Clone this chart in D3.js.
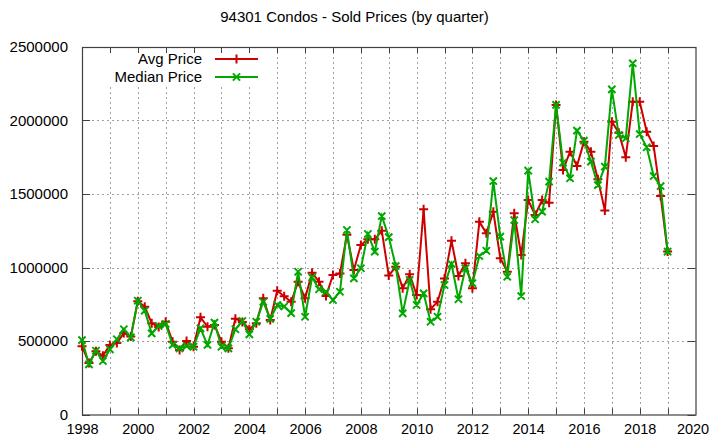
<!DOCTYPE html>
<html>
<head>
<meta charset="utf-8">
<script src="https://cdn.jsdelivr.net/npm/d3@7"></script>
<style>
body { margin: 0; background: #fff; }
text { font-family: "Liberation Sans", Arial, sans-serif; }
</style>
</head>
<body>
<div id="viz"></div>
<script>
var w = 709,
	h = 445,
	margin = {top: 47, right: 13.5, bottom: 30.5, left: 82};

var first_year = 1998;
var year_ticks = [1998,2000,2002,2004,2006,2008,2010,2012,2014,2016,2018,2020];
var price_ticks = [0,500000,1000000,1500000,2000000,2500000];

// quarterly, starting 1998 Q1
var avg_price = [
	465000,350000,430000,400000,473000,486000,554000,530000,
	770000,733000,620000,596000,631000,495000,439000,500000,
	461000,661000,597000,609000,495000,450000,652000,630000,
	580000,620000,790000,643000,842000,805000,767000,903000,
	790000,965000,903000,806000,949000,960000,1222000,983000,
	1153000,1192000,1192000,1250000,945000,1005000,858000,954000,
	813000,1396000,716000,767000,926000,1182000,942000,1029000,
	858000,1312000,1233000,1380000,1063000,971000,1369000,1085000,
	1459000,1357000,1459000,1441000,2106000,1663000,1788000,1691000,
	1856000,1788000,1600000,1387000,1992000,1917000,1750000,2128000,
	2128000,1924000,1827000,1486000,1108000
];
var median_price = [
	506000,341000,434000,364000,443000,512000,580000,525000,
	774000,706000,552000,602000,616000,473000,450000,466000,
	461000,586000,473000,625000,461000,450000,580000,636000,
	545000,631000,767000,650000,745000,735000,690000,971000,
	665000,933000,852000,835000,779000,835000,1255000,926000,
	995000,1228000,1108000,1350000,1207000,1010000,688000,915000,
	745000,824000,631000,665000,881000,1024000,784000,995000,
	893000,1078000,1114000,1588000,1210000,937000,1323000,806000,
	1659000,1328000,1380000,1584000,2106000,1713000,1607000,1931000,
	1863000,1720000,1560000,1686000,2212000,1901000,1879000,2389000,
	1908000,1818000,1622000,1554000,1108000
];

var series = [
	{name: 'Avg Price', values: avg_price, color: '#cc0000', marker: 'plus'},
	{name: 'Median Price', values: median_price, color: '#00a800', marker: 'cross'}
];

var iw = w - margin.left - margin.right,
	ih = h - margin.top - margin.bottom;

var x = d3.scaleLinear().domain([1998, 2020]).range([0, iw]);
var y = d3.scaleLinear().domain([0, 2500000]).range([ih, 0]);

var svg = d3.select('#viz').append('svg')
	.attr('width', w)
	.attr('height', h);

svg.append('text')
	.attr('x', w / 2)
	.attr('y', 22)
	.attr('text-anchor', 'middle')
	.style('font-size', '15px')
	.text('94301 Condos - Sold Prices (by quarter)');

var plot = svg.append('g')
	.attr('transform', 'translate(' + margin.left + ',' + margin.top + ')');

//GRID
var all_years = d3.range(1999, 2020);
plot.selectAll('.vgrid')
	.data(all_years)
	.enter().append('line')
		.attr('class', 'vgrid')
		.attr('x1', function(d){ return Math.round(x(d)) + 0.5; })
		.attr('x2', function(d){ return Math.round(x(d)) + 0.5; })
		.attr('y1', 0)
		.attr('y2', ih)
		.attr('stroke', '#a0a0a0')
		.attr('stroke-dasharray', '2,3');
plot.selectAll('.hgrid')
	.data(price_ticks.slice(1, -1))
	.enter().append('line')
		.attr('class', 'hgrid')
		.attr('x1', 0)
		.attr('x2', iw)
		.attr('y1', function(d){ return Math.round(y(d)) + 0.5; })
		.attr('y2', function(d){ return Math.round(y(d)) + 0.5; })
		.attr('stroke', '#a0a0a0')
		.attr('stroke-dasharray', '2,3');

// legend box hides grid behind it
plot.append('rect')
	.attr('x', 0)
	.attr('y', 0)
	.attr('width', 180)
	.attr('height', 39)
	.attr('fill', '#fff');

//AXES
var xAxis = d3.axisBottom(x).tickValues(year_ticks).tickFormat(d3.format('d')).tickSize(0).tickPadding(9);
var yAxis = d3.axisLeft(y).tickValues(price_ticks).tickFormat(d3.format('d')).tickSize(0).tickPadding(14);

var gx = plot.append('g')
	.attr('transform', 'translate(0,' + ih + ')')
	.call(xAxis);
var gy = plot.append('g').call(yAxis);
[gx, gy].forEach(function(g){
	g.select('.domain').remove();
	g.selectAll('text')
		.attr('fill', '#000')
		.style('font-size', '15px')
		.style('font-family', '"Liberation Sans", Arial, sans-serif');
});
// last year label sits at the window edge: keep it inside
gx.selectAll('text')
	.style('font-size', '14.5px')
	.attr('dx', function(d){ return d === 2020 ? -3 : 0; });

// inward tics on all four sides
var tic = 6;
plot.selectAll('.xtic')
	.data(all_years)
	.enter().append('path')
		.attr('class', 'xtic')
		.attr('d', function(d){
			var px = Math.round(x(d)) + 0.5;
			return 'M' + px + ',' + ih + 'V' + (ih - tic) + 'M' + px + ',0V' + tic;
		})
		.attr('stroke', '#404040');
plot.selectAll('.ytic')
	.data(price_ticks)
	.enter().append('path')
		.attr('class', 'ytic')
		.attr('d', function(d){
			var py = Math.round(y(d)) + 0.5;
			return 'M0,' + py + 'H' + (tic + 2) + 'M' + iw + ',' + py + 'H' + (iw - tic - 2);
		})
		.attr('stroke', '#404040');

plot.append('rect')
	.attr('x', 0.5)
	.attr('y', 0.5)
	.attr('width', iw)
	.attr('height', ih)
	.attr('fill', 'none')
	.attr('stroke', '#404040')
	.attr('stroke-width', 1.2);

//LINES
function markerPath(type, cx, cy) {
	if (type === 'plus') {
		var s = 4.5;
		return 'M' + (cx - s) + ',' + cy + 'H' + (cx + s) + 'M' + cx + ',' + (cy - s) + 'V' + (cy + s);
	}
	var c = 3.6;
	return 'M' + (cx - c) + ',' + (cy - c) + 'L' + (cx + c) + ',' + (cy + c) +
		'M' + (cx - c) + ',' + (cy + c) + 'L' + (cx + c) + ',' + (cy - c);
}

var line = d3.line()
	.x(function(d, i){ return x(first_year + i / 4); })
	.y(function(d){ return y(d); });

var lines = plot.selectAll('.series')
	.data(series)
	.enter().append('g')
		.attr('class', 'series');

lines.append('path')
	.attr('d', function(s){ return line(s.values); })
	.attr('fill', 'none')
	.attr('stroke', function(s){ return s.color; })
	.attr('stroke-width', 2)
	.attr('stroke-linejoin', 'miter');

lines.append('path')
	.attr('d', function(s){
		return s.values.map(function(d, i){
			return markerPath(s.marker, x(first_year + i / 4), y(d));
		}).join('');
	})
	.attr('fill', 'none')
	.attr('stroke', function(s){ return s.color; })
	.attr('stroke-width', 2);

//LEGEND
var legend = plot.selectAll('.legend')
	.data(series)
	.enter().append('g')
		.attr('class', 'legend')
		.attr('transform', function(d, i){ return 'translate(0,' + (12 + i * 18) + ')'; });

legend.append('text')
	.attr('x', 120)
	.attr('y', 0)
	.attr('dy', '0.35em')
	.attr('text-anchor', 'end')
	.style('font-size', '15px')
	.text(function(d){ return d.name; });
legend.append('line')
	.attr('x1', 133)
	.attr('x2', 176)
	.attr('y1', 0)
	.attr('y2', 0)
	.attr('stroke', function(d){ return d.color; })
	.attr('stroke-width', 2);
legend.append('path')
	.attr('d', function(d){ return markerPath(d.marker, 154.5, 0); })
	.attr('stroke', function(d){ return d.color; })
	.attr('stroke-width', 2);
</script>
</body>
</html>
